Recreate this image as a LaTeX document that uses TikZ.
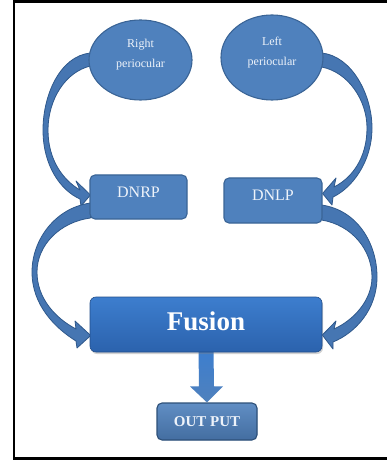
\documentclass[tikz,border=0pt]{standalone}
\usepackage{fontspec}
\setmainfont{Liberation Serif}
\usetikzlibrary{shapes.geometric,calc,shadows}
\definecolor{nodefill}{HTML}{4F81BD}
\definecolor{nodeedge}{HTML}{3A6496}
\definecolor{arrfill}{HTML}{4676B2}
\definecolor{arredge}{HTML}{2F588B}
\definecolor{txtcol}{HTML}{EEF3FA}
\definecolor{fustop}{HTML}{3D7ECE}
\definecolor{fusbot}{HTML}{2B62AD}
\pgfdeclarelayer{back}
\pgfdeclarelayer{bg}
\pgfsetlayers{back,bg,main}
\begin{document}
\begin{tikzpicture}[x=1pt,y=-1pt,
  ell/.style={ellipse, fill=nodefill, draw=nodeedge, line width=1.1pt},
  boxnode/.style={rectangle, rounded corners=5pt, fill=nodefill, draw=nodeedge, line width=1.1pt, text=txtcol},
  etext/.style={align=center, text=txtcol, font=\fontsize{12}{20}\selectfont},
  curvarr/.style={fill=arrfill, draw=arredge, line width=0.8pt, line join=round},
  downarr/.style={top color=fustop, bottom color=nodefill, draw=none}
]
\useasboundingbox (0,0) rectangle (387,462);
\begin{pgfonlayer}{back}
\fill[white] (0,0) rectangle (387,462);
\draw[line width=2.5pt, black] (387,1.5) -- (14,1.5) -- (14,458.5) -- (387,458.5);
\end{pgfonlayer}

% nodes
\node[ell, minimum width=103pt, minimum height=80pt,
  label={[etext, yshift=5pt]center:{Right\\periocular}}] (rp) at (140.5,60) {};
\node[ell, minimum width=102pt, minimum height=85pt,
  label={[etext, yshift=4.5pt]center:{Left\\periocular}}] (lp) at (272,57.5) {};
\node[boxnode, minimum width=97pt, minimum height=44pt,
  label={[text=txtcol, font=\fontsize{16}{18}\selectfont, yshift=4.5pt]center:DNRP}] (dnrp) at (138.5,197) {};
\node[boxnode, minimum width=98pt, minimum height=45pt,
  label={[text=txtcol, font=\fontsize{16}{18}\selectfont, yshift=5pt]center:DNLP}] (dnlp) at (273,200.5) {};
\node[rectangle, rounded corners=6pt, top color=fustop, bottom color=fusbot,
  draw=fusbot!80!black, line width=0.6pt, minimum width=232pt, minimum height=55pt,
  drop shadow={opacity=0.35, shadow xshift=1pt, shadow yshift=-2pt},
  label={[text=white, font=\bfseries\fontsize{27}{30}\selectfont, yshift=3pt]center:Fusion}] (fusion) at (206,324.5) {};
\node[boxnode, top color=nodefill!90!white, bottom color=nodefill!85!black, draw=nodeedge!80!black,
  minimum width=100pt, minimum height=37pt,
  font=\bfseries\fontsize{15}{17}\selectfont, text=txtcol] (out) at (207,421.5) {OUT PUT};

\begin{pgfonlayer}{bg}
% Right periocular -> DNRP
\draw[curvarr] ($(rp.west)+(2,-7)$) .. controls (60,56) and (43,95) .. (43,130)
  .. controls (43,165) and (60,190) .. (80,199)
  -- (81,206) -- ($(dnrp.west)+(1,-2)$) -- (76,181) -- (80,190)
  .. controls (63,180) and (48,160) .. (48,130)
  .. controls (48,100) and (65,72) .. ($(rp.west)+(2,6)$) -- cycle;
% DNRP -> Fusion
\draw[curvarr] ($(dnrp.west)+(1,6)$) .. controls (55,208) and (32,240) .. (32,272)
  .. controls (32,305) and (55,328) .. (76,341)
  -- (77,348) -- ($(fusion.west)+(1,11)$) -- (75,321) -- (76,329)
  .. controls (55,318) and (37,298) .. (37,272)
  .. controls (37,245) and (60,222) .. ($(dnrp.west)+(1,21)$) -- cycle;
% Left periocular -> DNLP
\draw[curvarr] ($(lp.east)+(-2,-4.5)$) .. controls (352,56) and (372,95) .. (372,128)
  .. controls (372,162) and (352,188) .. (333,197)
  -- (332,205) -- ($(dnlp.east)+(0,-7)$) -- (336,178) -- (334,187)
  .. controls (352,178) and (367,158) .. (367,128)
  .. controls (367,100) and (348,72) .. ($(lp.east)+(-2,9.5)$) -- cycle;
% DNLP -> Fusion
\draw[curvarr] ($(dnlp.east)+(-1,4.5)$) .. controls (357,210) and (377,243) .. (377,277)
  .. controls (377,310) and (355,333) .. (333,342)
  -- (333,349) -- ($(fusion.east)+(0,10.5)$) -- (336,321) -- (334,329)
  .. controls (354,320) and (372,300) .. (372,277)
  .. controls (372,250) and (352,225) .. ($(dnlp.east)+(-1,19.5)$) -- cycle;
% Fusion -> OUT PUT
\shade[downarr] ($(fusion.south)+(-7.5,-1)$) -- ($(fusion.south)+(7.5,-1)$)
  -- ($(out.north)+(7,-16)$) -- ($(out.north)+(16,-16)$) -- (out.north)
  -- ($(out.north)+(-17,-16)$) -- ($(out.north)+(-8,-16)$) -- cycle;
\end{pgfonlayer}
\end{tikzpicture}
\end{document}
